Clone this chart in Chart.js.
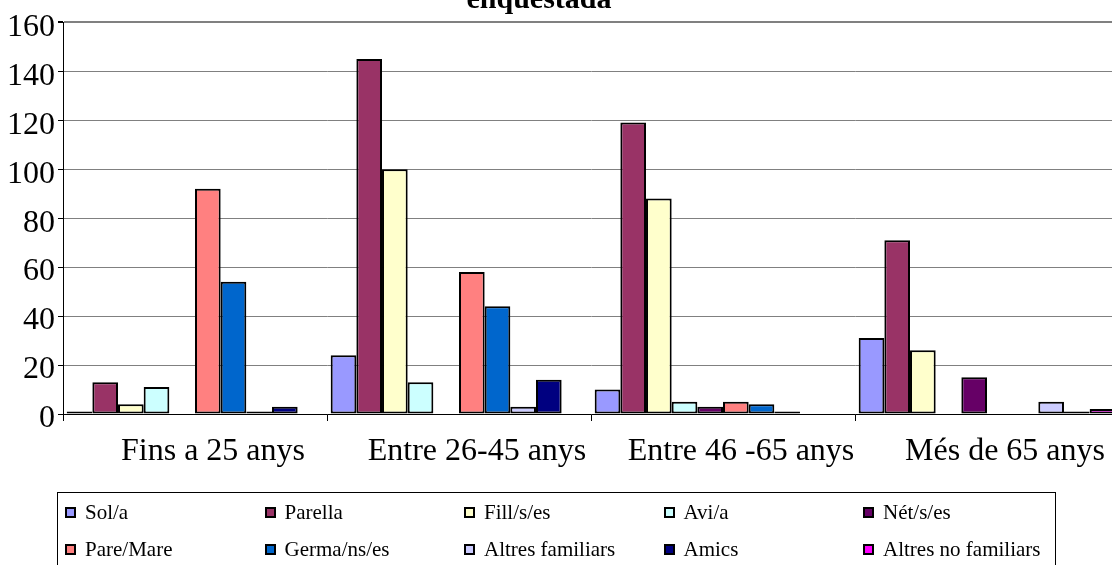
<!DOCTYPE html>
<html>
<head>
<meta charset="utf-8">
<script src="https://cdn.jsdelivr.net/npm/chart.js@4.4.1/dist/chart.umd.min.js"></script>
<style>
  body { margin: 0; background: #fff; overflow: hidden; }
  #wrap { position: relative; width: 1112px; height: 565px; overflow: hidden; }
  /* plot runs a few pixels past the right edge, as in the original */
  #chartBox { position: absolute; left: 0; top: 0; width: 1119px; height: 565px; }
  #legend {
    position: absolute; left: 57px; top: 492px; width: 999px; height: 90px;
    border: 1px solid #000; box-sizing: border-box;
    font-family: "Liberation Serif", "Times New Roman", serif; font-size: 21px; color: #000;
  }
  .item { position: absolute; display: flex; align-items: center; white-space: nowrap; }
  .sq { width: 7px; height: 7px; border: 2px solid #000; margin-right: 9px; }
</style>
</head>
<body>
<div id="wrap">
  <div id="chartBox"><canvas id="barChart"></canvas></div>
  <div id="legend"></div>
</div>
<script>
// age groups on the x axis
const categories = ['Fins a 25 anys', 'Entre 26-45 anys', 'Entre 46 -65 anys', 'Més de 65 anys'];

// one array per household member type, values per age group
const solA = [1, 24, 10, 31];
const parella = [13, 145, 119, 71];
const fills = [4, 100, 88, 26];
const aviA = [11, 13, 5, 0];
const nets = [0, 0, 3, 15];
const pareMare = [92, 58, 5, 0];
const germans = [54, 44, 4, 0];
const altresFamiliars = [1, 3, 1, 5];
const amics = [3, 14, 0, 1];
const altresNoFamiliars = [0, 0, 0, 2];

const yTicks = [0, 20, 40, 60, 80, 100, 120, 140, 160];

const series = [
  { label: 'Sol/a', data: solA, color: '#9999FF' },
  { label: 'Parella', data: parella, color: '#993366' },
  { label: 'Fill/s/es', data: fills, color: '#FFFFCC' },
  { label: 'Avi/a', data: aviA, color: '#CCFFFF' },
  { label: 'Nét/s/es', data: nets, color: '#660066' },
  { label: 'Pare/Mare', data: pareMare, color: '#FF8080' },
  { label: 'Germa/ns/es', data: germans, color: '#0066CC' },
  { label: 'Altres familiars', data: altresFamiliars, color: '#CCCCFF' },
  { label: 'Amics', data: amics, color: '#000080' },
  { label: 'Altres no familiars', data: altresNoFamiliars, color: '#FF00FF' }
];

const serif = '"Liberation Serif", "Times New Roman", serif';

// title is cut off at the top in the original, only the last line shows
const titlePlugin = {
  id: 'cutTitle',
  afterDraw(chart) {
    const c = chart.ctx;
    c.save();
    c.font = 'bold 30px ' + serif;
    c.fillStyle = '#000';
    c.textAlign = 'center';
    c.textBaseline = 'alphabetic';
    c.fillText('enquestada', 539, 8);
    c.restore();
  }
};

const ctx = document.getElementById('barChart').getContext('2d');

const barChart = new Chart(ctx, {
  type: 'bar',
  data: {
    labels: categories,
    datasets: series.map(s => ({
      label: s.label,
      data: s.data,
      backgroundColor: s.color,
      borderColor: '#000',
      borderWidth: 2,
      borderSkipped: false,
      categoryPercentage: 0.972,
      barPercentage: 1.0
    }))
  },
  options: {
    responsive: true,
    maintainAspectRatio: false,
    animation: false,
    layout: { padding: { top: 20, right: 0, bottom: 85, left: 0 } },
    plugins: {
      legend: { display: false },
      title: { display: false },
      tooltip: { enabled: false }
    },
    scales: {
      x: {
        offset: true,
        grid: { offset: true, drawOnChartArea: false, drawTicks: true, tickLength: 7, color: '#000' },
        border: { color: '#000', width: 1 },
        ticks: { font: { family: serif, size: 32 }, color: '#000', padding: 11, maxRotation: 0, autoSkip: false, labelOffset: 18 },
        afterFit(scale) { scale.height = 66; }
      },
      y: {
        min: 0,
        max: 160,
        afterBuildTicks(scale) { scale.ticks = yTicks.map(v => ({ value: v })); },
        grid: {
          color: '#808080',
          lineWidth: c => (c.tick && c.tick.value === 160 ? 2 : 1),
          tickLength: 5,
          tickColor: '#000'
        },
        border: { color: '#000', width: 1 },
        ticks: { font: { family: serif, size: 32 }, color: '#000', padding: 3, labelOffset: 5 },
        afterFit(scale) { scale.width = 63; }
      }
    }
  },
  plugins: [titlePlugin]
});

// legend box below the chart, 5 columns x 2 rows
const legend = document.getElementById('legend');
series.forEach((s, i) => {
  const col = i % 5, row = Math.floor(i / 5);
  const el = document.createElement('div');
  el.className = 'item';
  el.style.left = (7 + col * 199.5) + 'px';
  el.style.top = (7 + row * 37) + 'px';
  el.innerHTML = '<span class="sq" style="background:' + s.color + '"></span>' + s.label;
  legend.appendChild(el);
});
</script>
</body>
</html>
